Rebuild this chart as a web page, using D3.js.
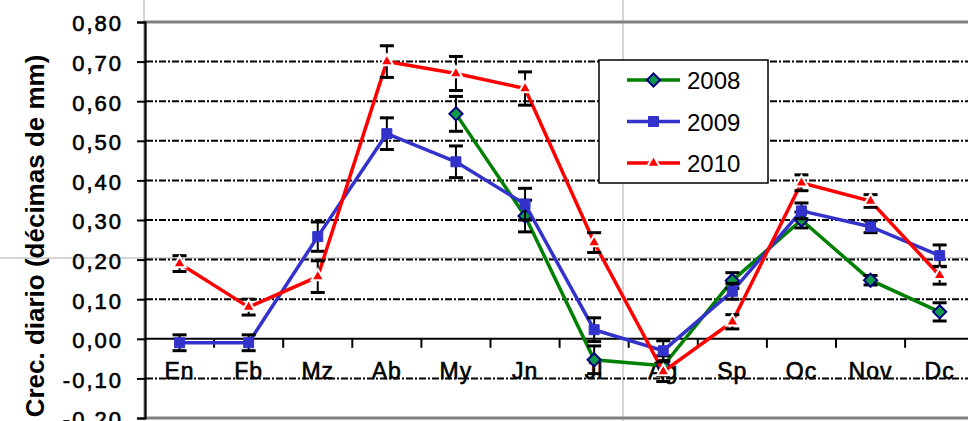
<!DOCTYPE html>
<html>
<head>
    <title>Crec. diario</title>
    <script src="https://d3js.org/d3.v7.min.js"></script>
    <style>
        body { margin: 0; background: #fff; }
        text { font-family: "Liberation Sans", Arial, sans-serif; fill: #000; }
        .thick { stroke: #000; stroke-width: 0.6px; }
    </style>
</head>
<body>
<script>
var months = ["En", "Fb", "Mz", "Ab", "My", "Jn", "Jl", "Ag", "Sp", "Oc", "Nov", "Dc"];
var yTicks = [-0.2, -0.1, 0, 0.1, 0.2, 0.3, 0.4, 0.5, 0.6, 0.7, 0.8];

var v2008 = [null, null, null, null, 0.568, 0.31, -0.053, -0.068, 0.147, 0.30, 0.148, 0.068];
var e2008 = [null, null, null, null, 0.044, 0.04, 0.035, 0.025, 0.02, 0.02, 0.012, 0.023];
var v2009 = [-0.01, -0.01, 0.258, 0.518, 0.447, 0.34, 0.023, -0.03, 0.12, 0.323, 0.283, 0.21];
var e2009 = [0.02, 0.02, 0.037, 0.04, 0.04, 0.04, 0.03, 0.025, 0.02, 0.02, 0.015, 0.027];
var v2010 = [0.19, 0.08, 0.157, 0.70, 0.67, 0.632, 0.243, -0.083, 0.043, 0.394, 0.348, 0.16];
var e2010 = [0.02, 0.02, 0.04, 0.04, 0.043, 0.042, 0.025, 0.025, 0.018, 0.02, 0.016, 0.022];

var series = [
    { name: "2008", values: v2008, errors: e2008, color: "#008000", marker: "diamond" },
    { name: "2009", values: v2009, errors: e2009, color: "#3333cc", marker: "square" },
    { name: "2010", values: v2010, errors: e2010, color: "#ff0000", marker: "triangle" }
];

var svg = d3.select("body").append("svg")
    .attr("width", 968)
    .attr("height", 421);

var x = d3.scaleBand()
    .domain(months)
    .range([145, 974.2]);

var y = d3.scaleLinear()
    .domain([-0.2, 0.8])
    .range([418, 22]);

// spreadsheet cell lines showing through the chart
var cells = svg.append("g")
    .attr("stroke", "#d6d6d6")
    .attr("stroke-width", 2);
cells.append("line").attr("x1", 623).attr("x2", 623).attr("y1", 0).attr("y2", 421);
cells.append("line").attr("x1", 144).attr("x2", 144).attr("y1", 0).attr("y2", 22);
cells.append("line").attr("x1", 0).attr("x2", 968).attr("y1", 258).attr("y2", 258);

// plot area border
svg.append("rect")
    .attr("x", 145)
    .attr("y", y(0.8))
    .attr("width", 840)
    .attr("height", y(-0.2) - y(0.8))
    .attr("fill", "none")
    .attr("stroke", "#808080")
    .attr("stroke-width", 3);

// gridlines
svg.append("g")
    .selectAll("line")
    .data(yTicks.filter(function(d) { return d !== 0 && d !== 0.8 && d !== -0.2; }))
    .enter().append("line")
    .attr("x1", 146)
    .attr("x2", 968)
    .attr("y1", function(d) { return y(d); })
    .attr("y2", function(d) { return y(d); })
    .attr("stroke", "#000")
    .attr("stroke-width", 2)
    .attr("stroke-dasharray", "7,2,2,2");

// y axis
var yAxis = svg.append("g")
    .attr("transform", "translate(145,0)")
    .call(d3.axisLeft(y)
        .tickValues(yTicks)
        .tickSize(8)
        .tickPadding(14)
        .tickFormat(function(d) { return d3.format(".2f")(d).replace(".", ",").replace("−", "-"); }));
yAxis.select(".domain").attr("stroke", "#000").attr("stroke-width", 2);
yAxis.selectAll(".tick line").attr("stroke", "#000").attr("stroke-width", 2);
yAxis.selectAll(".tick text")
    .attr("class", "thick")
    .attr("font-size", 22)
    .attr("letter-spacing", 2)
    .attr("dy", "0.4em")
    .style("font-family", "'Liberation Sans', Arial, sans-serif");

// x axis at zero
var xAxis = svg.append("g")
    .attr("transform", "translate(0," + y(0) + ")");
xAxis.append("line")
    .attr("x1", 145)
    .attr("x2", 968)
    .attr("stroke", "#000")
    .attr("stroke-width", 2);
xAxis.selectAll(".xtick")
    .data(months.slice(1))
    .enter().append("line")
    .attr("class", "xtick")
    .attr("x1", function(d) { return x(d); })
    .attr("x2", function(d) { return x(d); })
    .attr("y1", 0)
    .attr("y2", 9)
    .attr("stroke", "#000")
    .attr("stroke-width", 2);
xAxis.selectAll(".xlabel")
    .data(months)
    .enter().append("text")
    .attr("class", "xlabel thick")
    .attr("x", function(d) { return x(d) + x.bandwidth() / 2; })
    .attr("y", 40)
    .attr("text-anchor", "middle")
    .attr("font-size", 23)
    .attr("letter-spacing", 1)
    .text(function(d) { return d; });

// y axis title
svg.append("text")
    .attr("transform", "translate(44,236) rotate(-90)")
    .attr("text-anchor", "middle")
    .attr("font-size", 26)
    .attr("font-weight", "bold")
    .text("Crec. diario (décimas de mm)");

function markerPath(type) {
    if (type === "diamond") return d3.symbol().type(d3.symbolDiamond2).size(110)();
    if (type === "square") return d3.symbol().type(d3.symbolSquare).size(100)();
    return d3.symbol().type(d3.symbolTriangle).size(70)();
}

function styleMarker(sel, s) {
    if (s.marker === "diamond") {
        sel.attr("fill", "#0f9a4a").attr("stroke", "#000080").attr("stroke-width", 2);
    } else if (s.marker === "square") {
        sel.attr("fill", s.color).attr("stroke", s.color).attr("stroke-width", 1);
    } else {
        sel.attr("fill", s.color).attr("stroke", "#fff").attr("stroke-width", 2);
    }
}

var line = d3.line()
    .defined(function(d) { return d.v !== null; })
    .x(function(d) { return x(d.m) + x.bandwidth() / 2; })
    .y(function(d) { return y(d.v); });

series.forEach(function(s) {
    var pts = months.map(function(m, i) { return { m: m, v: s.values[i], e: s.errors[i] }; })
        .filter(function(d) { return d.v !== null; });
    var g = svg.append("g");

    g.append("path")
        .datum(pts)
        .attr("d", line)
        .attr("fill", "none")
        .attr("stroke", s.color)
        .attr("stroke-width", 3.5);

    var eb = g.selectAll(".err")
        .data(pts)
        .enter().append("g")
        .attr("transform", function(d) { return "translate(" + (x(d.m) + x.bandwidth() / 2) + ",0)"; })
        .attr("stroke", "#000");
    eb.append("line")
        .attr("y1", function(d) { return y(d.v + d.e); })
        .attr("y2", function(d) { return y(d.v - d.e); })
        .attr("stroke-width", 2);
    eb.append("line")
        .attr("x1", -7).attr("x2", 7)
        .attr("y1", function(d) { return y(d.v + d.e); })
        .attr("y2", function(d) { return y(d.v + d.e); })
        .attr("stroke-width", 3);
    eb.append("line")
        .attr("x1", -7).attr("x2", 7)
        .attr("y1", function(d) { return y(d.v - d.e); })
        .attr("y2", function(d) { return y(d.v - d.e); })
        .attr("stroke-width", 3);

    var mk = g.selectAll(".mk")
        .data(pts)
        .enter().append("path")
        .attr("d", markerPath(s.marker))
        .attr("transform", function(d) { return "translate(" + (x(d.m) + x.bandwidth() / 2) + "," + y(d.v) + ")"; });
    styleMarker(mk, s);
});

// legend
var legend = svg.append("g")
    .attr("transform", "translate(599,60)");
legend.append("rect")
    .attr("width", 169)
    .attr("height", 123)
    .attr("fill", "#fff")
    .attr("stroke", "#000")
    .attr("stroke-width", 1.5);

var item = legend.selectAll(".item")
    .data(series)
    .enter().append("g")
    .attr("transform", function(d, i) { return "translate(0," + (20 + i * 41.5) + ")"; });
item.append("line")
    .attr("x1", 28)
    .attr("x2", 81)
    .attr("stroke", function(d) { return d.color; })
    .attr("stroke-width", 3.5);
item.append("path")
    .attr("d", function(d) { return markerPath(d.marker); })
    .attr("transform", "translate(54.5,0)")
    .each(function(d) { styleMarker(d3.select(this), d); });
item.append("text")
    .attr("x", 88)
    .attr("y", 9)
    .attr("font-size", 24)
    .text(function(d) { return d.name; });
</script>
</body>
</html>
